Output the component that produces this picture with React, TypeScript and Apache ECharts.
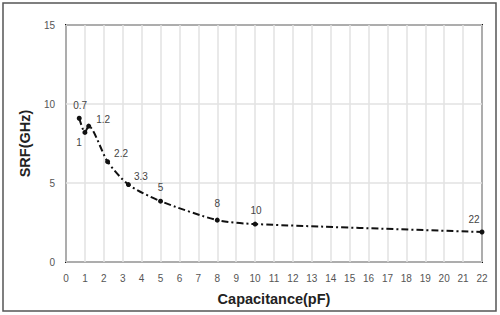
import React, { useEffect, useRef } from "react";
import * as echarts from "echarts";

const capacitance = [0.7, 1, 1.2, 2.2, 3.3, 5, 8, 10, 22];
const srf = [9.1, 8.2, 8.6, 6.35, 4.9, 3.85, 2.65, 2.4, 1.9];
const pointLabels = ["0.7", "1", "1.2", "2.2", "3.3", "5", "8", "10", "22"];
const labelPositions = ["top", "bottom", "right", "right", "right", "top", "top", "top", "top"];
const labelOffsets: [number, number][] = [
  [1, 0],
  [-6, -2],
  [0, -7],
  [-1, -8],
  [-2, -8],
  [0, -1],
  [0, -4],
  [1, -1],
  [-8, 0],
];

export default function App() {
  const ref = useRef<HTMLDivElement>(null);
  useEffect(() => {
    document.body.style.margin = "0";
    if (!ref.current) return;
    const chart = echarts.init(ref.current, null, { renderer: "svg" });
    const font = "'Liberation Sans', Arial, sans-serif";
    chart.setOption({
      animation: false,
      backgroundColor: "#fff",
      textStyle: { fontFamily: font },
      grid: {
        left: 66,
        top: 25,
        right: 18,
        bottom: 53,
        show: true,
        borderColor: "#111",
        borderWidth: 2,
        backgroundColor: "transparent",
      },
      graphic: [
        {
          type: "rect",
          shape: { x: 3, y: 3, width: 493, height: 308 },
          style: { fill: "none", stroke: "#555", lineWidth: 1.5 },
          silent: true,
        },
      ],
      xAxis: {
        type: "value",
        min: 0,
        max: 22,
        interval: 1,
        name: "Capacitance(pF)",
        nameLocation: "middle",
        nameGap: 29,
        nameTextStyle: { fontSize: 14.5, fontWeight: "bold", color: "#222", fontFamily: font },
        axisLine: { show: false },
        axisTick: { show: false },
        axisLabel: { color: "#555", fontSize: 10, margin: 11, fontFamily: font },
        splitLine: { show: true, lineStyle: { color: "#e2e2e2", width: 1.5 } },
      },
      yAxis: {
        type: "value",
        min: 0,
        max: 15,
        interval: 5,
        name: "SRF(GHz)",
        nameLocation: "middle",
        nameGap: 26,
        nameTextStyle: { fontSize: 14.5, fontWeight: "bold", color: "#222", fontFamily: font },
        axisLine: { show: false },
        axisTick: { show: false },
        axisLabel: { color: "#555", fontSize: 10, margin: 11, fontFamily: font },
        splitLine: { show: true, lineStyle: { color: "#e2e2e2", width: 1.5 } },
      },
      series: [
        {
          type: "line",
          smooth: 0.25,
          symbol: "circle",
          symbolSize: 5,
          itemStyle: { color: "#111" },
          lineStyle: { color: "#111", width: 2, type: [7, 3, 2, 3] },
          data: capacitance.map((c, i) => ({
            value: [c, srf[i]],
            label: {
              show: true,
              formatter: pointLabels[i],
              position: labelPositions[i],
              offset: labelOffsets[i],
              fontSize: 10,
              color: "#444",
              fontFamily: font,
            },
          })),
        },
      ],
    });
    return () => chart.dispose();
  }, []);
  return <div ref={ref} style={{ width: 500, height: 315 }} />;
}
